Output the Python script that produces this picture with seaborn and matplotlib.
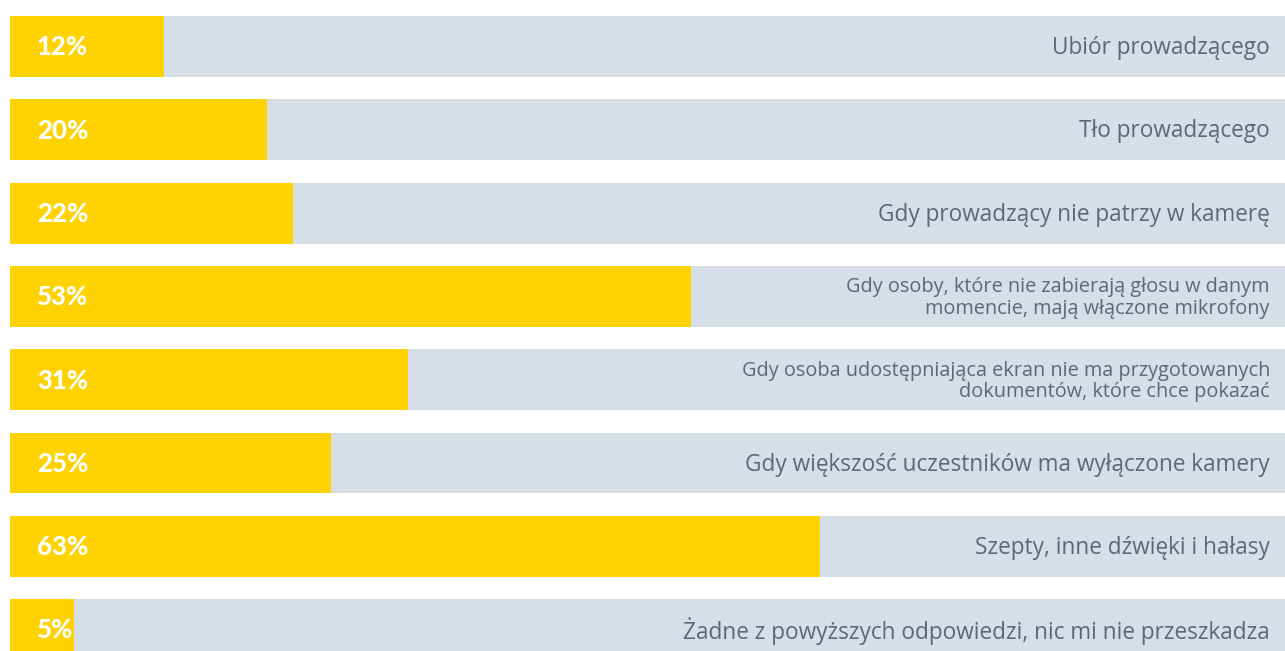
import matplotlib
matplotlib.use("Agg")
import matplotlib.pyplot as plt
import seaborn as sns
import pandas as pd

categories = [
    "Ubiór prowadzącego",
    "Tło prowadzącego",
    "Gdy prowadzący nie patrzy w kamerę",
    "Gdy osoby, które nie zabierają głosu w danym\nmomencie, mają włączone mikrofony",
    "Gdy osoba udostępniająca ekran nie ma przygotowanych\ndokumentów, które chce pokazać",
    "Gdy większość uczestników ma wyłączone kamery",
    "Szepty, inne dźwięki i hałasy",
    "Żadne z powyższych odpowiedzi, nic mi nie przeszkadza",
]
values = [12, 20, 22, 53, 31, 25, 63, 5]
full = [100] * len(values)

YELLOW = "#FFD200"
GRAY = "#D6DEE8"
TEXT = "#5E677A"

sns.set_theme(style="white")
plt.rcParams["font.family"] = ["Open Sans", "DejaVu Sans"]

df = pd.DataFrame({"cat": categories, "val": values, "full": full})

fig = plt.figure(figsize=(12.85, 6.51), dpi=100)
ax = fig.add_axes([10 / 1285, 0, 1.0, 1.0])

sns.barplot(data=df, x="full", y="cat", orient="h", color=GRAY, width=0.732,
            saturation=1, linewidth=0, ax=ax)
sns.barplot(data=df, x="val", y="cat", orient="h", color=YELLOW, width=0.732,
            saturation=1, linewidth=0, ax=ax)

ax.set_xlim(0, 100)
ax.set_ylim(7.257, -0.558)
ax.axis("off")

for i, (c, v) in enumerate(zip(categories, values)):
    ax.text(2.1, i + 0.01, f"{v}%", ha="left", va="center", color="white",
            fontsize=18.5, fontweight="black", family=["Lato", "DejaVu Sans"])
    multi = "\n" in c
    ax.text(98.05, i + 0.02, c, ha="right", va="center", color=TEXT,
            fontsize=14.3 if multi else 16.3, fontweight="normal",
            linespacing=1.08 if multi else 1.2)

fig.savefig("out.png", dpi=100, facecolor="white")
